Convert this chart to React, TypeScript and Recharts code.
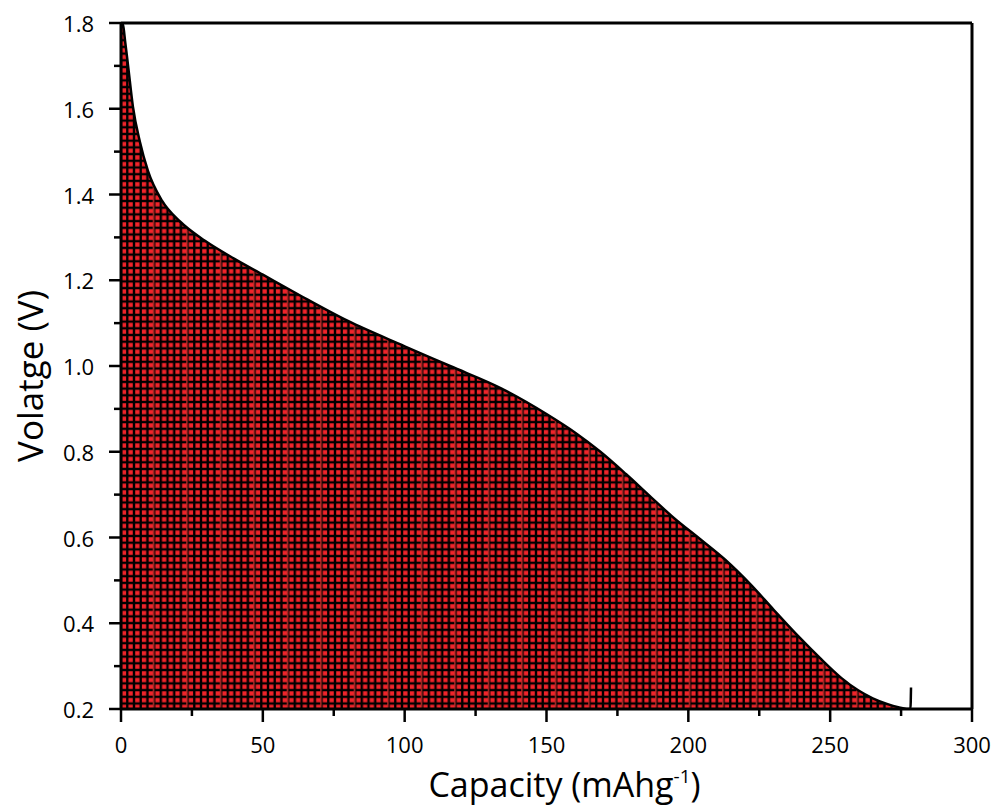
import { AreaChart, Area, XAxis, YAxis, ReferenceLine, Label } from 'recharts'

const capacity = [
  0, 0.7, 1.5, 2.5, 4.2, 6.7, 9.5, 14.5, 20.8, 29.6, 40, 50, 63, 80, 100, 116, 134, 150, 160, 169,
  178, 187, 195, 204, 213, 222, 230, 239, 247, 254, 260, 265, 270, 274, 277, 278.3, 278.5,
]
const voltage = [
  1.8, 1.795, 1.755, 1.7, 1.605, 1.522, 1.455, 1.385, 1.337, 1.292, 1.25, 1.213, 1.165, 1.105, 1.046,
  1.0, 0.948, 0.888, 0.845, 0.8, 0.748, 0.693, 0.645, 0.597, 0.548, 0.49, 0.432, 0.368, 0.315, 0.272,
  0.243, 0.225, 0.212, 0.204, 0.2, 0.2, 0.25,
]
const xTicks = [0, 25, 50, 75, 100, 125, 150, 175, 200, 225, 250, 275, 300]
const yTicks = [0.2, 0.3, 0.4, 0.5, 0.6, 0.7, 0.8, 0.9, 1.0, 1.1, 1.2, 1.3, 1.4, 1.5, 1.6, 1.7, 1.8]

const data = capacity.map((c, i) => ({ c, v: voltage[i] }))

const FONT = '"Open Sans", "Noto Sans", sans-serif'
const CELL = 6.7
const RED = '#f0242a'

function YTick(props: any) {
  const { x, y, payload } = props
  const v = payload.value as number
  const major = Math.round(v * 10) % 2 === 0
  return (
    <g>
      <line x1={x - (major ? 12 : 7)} x2={x} y1={y} y2={y} stroke="#000" strokeWidth={2.5} />
      {major && (
        <text x={x - 27} y={y} textAnchor="end" dominantBaseline="central" fontSize={22} fontFamily={FONT} fill="#000">
          {v.toFixed(1)}
        </text>
      )}
    </g>
  )
}

function XTick(props: any) {
  const { x, y, payload } = props
  const v = payload.value as number
  const major = v % 50 === 0
  return (
    <g>
      <line x1={x} x2={x} y1={y} y2={y + (major ? 13 : 7)} stroke="#000" strokeWidth={2.5} />
      {major && (
        <text x={x} y={y + 44} textAnchor="middle" fontSize={22} fontFamily={FONT} fill="#000">
          {v}
        </text>
      )}
    </g>
  )
}

export default function App() {
  return (
    <div style={{ position: 'absolute', left: 0, top: 0, width: 993, height: 807, background: '#fff' }}>
      <AreaChart width={993} height={807} data={data} margin={{ top: 23, right: 21, left: 0, bottom: 0 }}>
        <defs>
          <pattern id="hatch" patternUnits="userSpaceOnUse" width={CELL * 5} height={CELL}>
            <rect width={CELL * 5} height={CELL} fill="#000" />
            {[0, 1, 2, 3, 4].map((k) => (
              <rect key={k} x={k * CELL + 1.2} y={1.2} width={4.3} height={4.3} fill={RED} />
            ))}
            <rect x={CELL * 2 + 5.5} y={0} width={1.2} height={CELL} fill="#dc3530" />
          </pattern>
        </defs>
        <XAxis
          dataKey="c"
          type="number"
          domain={[0, 300]}
          ticks={xTicks}
          interval={0}
          height={98}
          tickSize={0}
          tickMargin={0}
          tickLine={false}
          tick={<XTick />}
          axisLine={{ stroke: '#000', strokeWidth: 3 }}
        >
          <Label
            content={(p: any) => {
              const vb = p.viewBox
              return (
                <text x={vb.x + vb.width / 2 + 18} y={vb.y + 88} textAnchor="middle" fontSize={34} fontFamily={FONT} fill="#000">
                  Capacity (mAhg
                  <tspan dy={-14} fontSize={19}>-1</tspan>
                  <tspan dy={14}>)</tspan>
                </text>
              )
            }}
          />
        </XAxis>
        <YAxis
          type="number"
          domain={[0.2, 1.8]}
          ticks={yTicks}
          interval={0}
          width={121}
          tickSize={0}
          tickMargin={0}
          tickLine={false}
          tick={<YTick />}
          axisLine={{ stroke: '#000', strokeWidth: 3 }}
          allowDataOverflow
        >
          <Label
            content={(p: any) => {
              const vb = p.viewBox
              const cx = vb.x + 29
              const cy = vb.y + vb.height / 2 + 10
              return (
                <text
                  x={cx}
                  y={cy}
                  transform={`rotate(-90 ${cx} ${cy})`}
                  textAnchor="middle"
                  dominantBaseline="central"
                  fontSize={35}
                  fontFamily={FONT}
                  fill="#000"
                >
                  Volatge (V)
                </text>
              )
            }}
          />
        </YAxis>
        <ReferenceLine y={1.8} stroke="#000" strokeWidth={3} />
        <ReferenceLine x={300} stroke="#000" strokeWidth={3} />
        <Area
          type="monotone"
          dataKey="v"
          stroke="#000"
          strokeWidth={2.5}
          fill="url(#hatch)"
          fillOpacity={1}
          isAnimationActive={false}
          dot={false}
          activeDot={false}
        />
      </AreaChart>
    </div>
  )
}
